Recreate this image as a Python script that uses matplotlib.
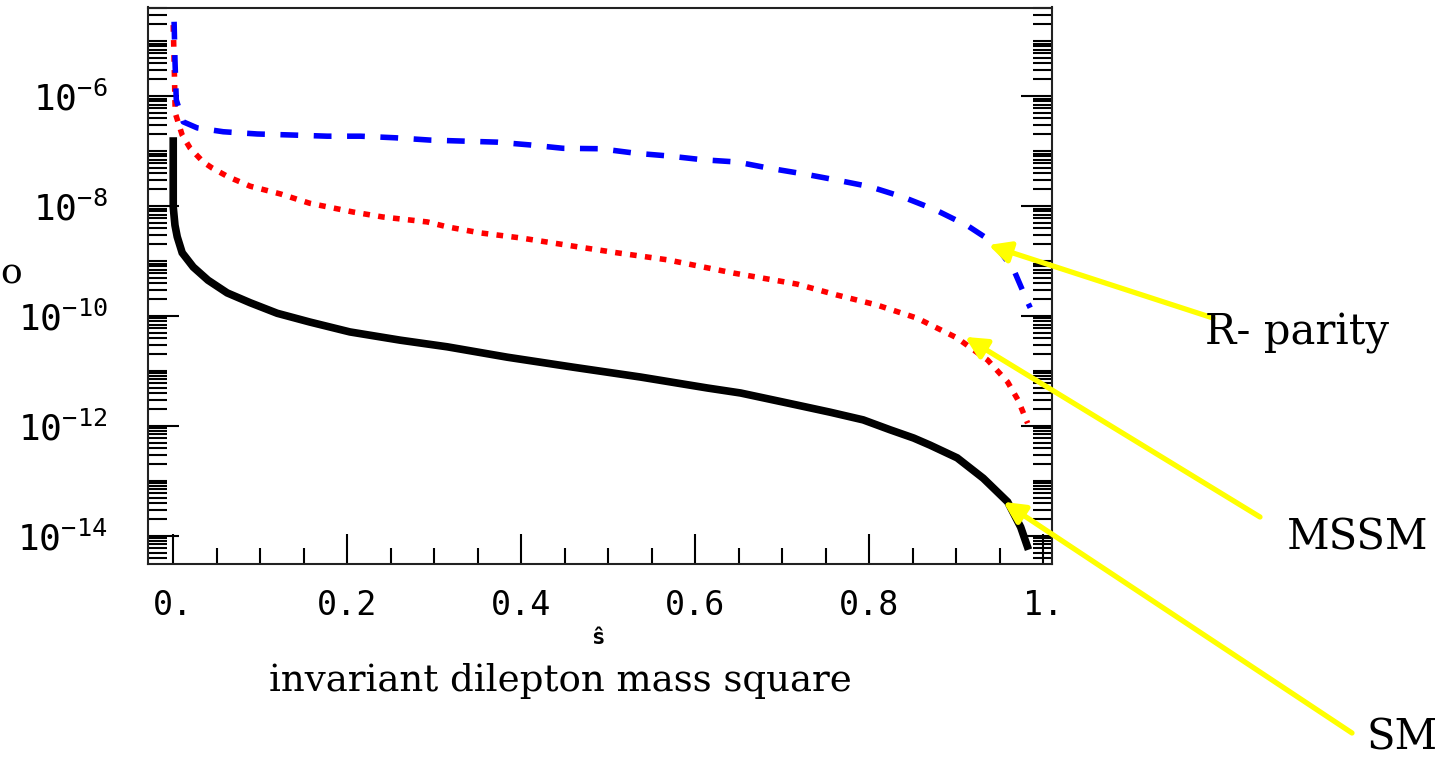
import matplotlib
matplotlib.use('Agg')
import matplotlib.pyplot as plt
from matplotlib.ticker import FixedLocator, FixedFormatter

# 读图得到的数据 (s_hat, 分支比)
# SM 曲线 (黑色实线)
sm_s = [0.0, 0.0, 0.002, 0.0046, 0.0103, 0.023, 0.040, 0.062, 0.0885, 0.1195, 0.157, 0.203, 0.261,
        0.315, 0.384, 0.460, 0.537, 0.614, 0.652, 0.717, 0.755, 0.793, 0.824, 0.851, 0.870, 0.901,
        0.931, 0.959, 0.974, 0.983]
sm_br = [1.78e-7, 9.55e-9, 4.47e-9, 2.75e-9, 1.41e-9, 7.76e-10, 4.47e-10, 2.63e-10, 1.74e-10, 1.12e-10,
         7.76e-11, 5.13e-11, 3.63e-11, 2.75e-11, 1.78e-11, 1.17e-11, 7.76e-12, 4.90e-12, 3.98e-12,
         2.40e-12, 1.78e-12, 1.29e-12, 8.51e-13, 6.03e-13, 4.47e-13, 2.63e-13, 1.12e-13, 4.17e-14,
         1.45e-14, 5.62e-15]

# MSSM 曲线 (红色点线)
mssm_s = [0.0, 0.001, 0.0023, 0.0103, 0.0195, 0.0345, 0.0448, 0.0632, 0.0885, 0.123, 0.157, 0.207,
          0.241, 0.292, 0.315, 0.353, 0.399, 0.460, 0.510, 0.568, 0.644, 0.717, 0.763, 0.809, 0.855,
          0.901, 0.936, 0.959, 0.971, 0.982]
mssm_br = [1.95e-5, 4.47e-6, 4.90e-7, 1.95e-7, 1.12e-7, 6.31e-8, 4.90e-8, 3.39e-8, 2.29e-8, 1.66e-8,
           1.12e-8, 7.76e-9, 6.31e-9, 5.13e-9, 4.17e-9, 3.24e-9, 2.63e-9, 1.86e-9, 1.41e-9, 1.05e-9,
           6.03e-10, 3.80e-10, 2.40e-10, 1.58e-10, 9.12e-11, 3.98e-11, 1.58e-11, 6.31e-12, 2.95e-12,
           1.12e-12]

# R-parity 曲线 (蓝色虚线)
rp_s = [0.001, 0.002, 0.0035, 0.0115, 0.0276, 0.0575, 0.0966, 0.138, 0.177, 0.215, 0.255, 0.295,
        0.372, 0.410, 0.448, 0.491, 0.531, 0.569, 0.609, 0.648, 0.684, 0.726, 0.763, 0.801, 0.839,
        0.876, 0.913, 0.943, 0.966, 0.982, 0.985]
rp_br = [2.24e-5, 4.47e-6, 8.51e-7, 3.39e-7, 2.63e-7, 2.24e-7, 2.04e-7, 1.95e-7, 1.86e-7, 1.86e-7,
         1.74e-7, 1.58e-7, 1.45e-7, 1.29e-7, 1.12e-7, 1.10e-7, 9.12e-8, 8.13e-8, 6.92e-8, 6.31e-8,
         4.90e-8, 3.80e-8, 2.95e-8, 2.24e-8, 1.45e-8, 8.51e-9, 4.37e-9, 2.14e-9, 6.92e-10, 1.78e-10,
         1.41e-10]

# 坐标轴刻度
xticks = [0.0, 0.2, 0.4, 0.6, 0.8, 1.0]
xtick_labels = ['0.', '0.2', '0.4', '0.6', '0.8', '1.']
yticks = [1e-14, 1e-12, 1e-10, 1e-8, 1e-6]
ytick_labels = [r'$\mathtt{10^{-14}}$', r'$\mathtt{10^{-12}}$', r'$\mathtt{10^{-10}}$',
                r'$\mathtt{10^{-8}}$', r'$\mathtt{10^{-6}}$']

# 箭头指向的位置 (数据坐标) 以及标注文字
labels = ['R- parity', 'MSSM', 'SM']
arrow_tips = [(0.937, 1.95e-9), (0.910, 4.17e-11), (0.954, 4.17e-14)]

plt.rcParams['mathtext.fontset'] = 'dejavusans'

W, H = 1442, 758
fig = plt.figure(figsize=(W / 100, H / 100), dpi=100)
ax = fig.add_axes([148 / W, 1 - 564 / H, (1052 - 148) / W, (564 - 7.5) / H])

ax.plot(sm_s, sm_br, color='black', lw=5.5, solid_capstyle='butt', solid_joinstyle='miter')
ax.plot(mssm_s, mssm_br, color='#ff0000', lw=4, dashes=(1.2, 1.5), dash_capstyle='butt')
ax.plot(rp_s, rp_br, color='#0000ff', lw=4, dashes=(3.2, 2.8), dash_capstyle='butt')

ax.set_yscale('log')
ax.set_xlim(-0.029, 1.010)
ax.set_ylim(3.09e-15, 4.07e-5)

# y 轴: 每两个数量级一个主刻度, 其余为次刻度 (mathematica 风格)
ax.yaxis.set_major_locator(FixedLocator(yticks))
ax.yaxis.set_major_formatter(FixedFormatter(ytick_labels))
yminor = []
for k in range(-15, -3):
    for m in range(1, 10):
        v = m * 10.0 ** k
        if m == 1 and k % 2 == 0:
            continue
        yminor.append(v)
ax.yaxis.set_minor_locator(FixedLocator(yminor))
ax.yaxis.set_minor_formatter(FixedFormatter([]))

ax.xaxis.set_major_locator(FixedLocator(xticks))
ax.xaxis.set_major_formatter(FixedFormatter(xtick_labels))
ax.xaxis.set_minor_locator(FixedLocator([0.05, 0.1, 0.15, 0.25, 0.3, 0.35, 0.45, 0.5, 0.55,
                                         0.65, 0.7, 0.75, 0.85, 0.9, 0.95]))

ax.tick_params(axis='y', which='both', direction='in', left=True, right=True, width=1.5, color='black')
ax.tick_params(axis='y', which='major', length=22, pad=29, labelsize=26)
ax.tick_params(axis='y', which='minor', length=13.5)
ax.tick_params(axis='x', which='both', direction='in', bottom=True, top=False, width=1.5, color='black')
ax.tick_params(axis='x', which='major', length=21.5, pad=18, labelsize=24)
ax.tick_params(axis='x', which='minor', length=11.5)
for lab in ax.get_xticklabels():
    lab.set_family('DejaVu Sans Mono')

for sp in ax.spines.values():
    sp.set_linewidth(1.5)
    sp.set_color('#222222')

# 坐标轴标题
fig.text(598 / W, 1 - 638 / H, 'ŝ', family='DejaVu Sans Mono', fontsize=16, weight='bold',
         ha='center', va='center')
fig.text(560 / W, 1 - 681 / H, 'invariant dilepton mass square', family='DejaVu Serif',
         fontsize=26.7, ha='center', va='center')
# 左边被裁掉的纵轴标题只剩下最后一个字母
fig.text(0, 1 - 283 / H, 'o', family='DejaVu Serif', fontsize=26,
         ha='left', va='baseline')

# 黄色箭头 + 标注
label_pos = [(1205, 333), (1287, 538), (1366, 737)]
tails = [(1213, 318), (1260, 517), (1352, 733)]
for name, tip, lp, tl in zip(labels, arrow_tips, label_pos, tails):
    ax.annotate('', xy=tip, xycoords='data',
                xytext=(tl[0] / W, 1 - tl[1] / H), textcoords='figure fraction',
                arrowprops=dict(arrowstyle='-|>', color='#ffff00', lw=3.8,
                                mutation_scale=32, shrinkA=0, shrinkB=0),
                annotation_clip=False)
    fig.text(lp[0] / W, 1 - lp[1] / H, name, family='DejaVu Serif', fontsize=30,
             ha='left', va='center')

fig.savefig('out.png', dpi=100)
